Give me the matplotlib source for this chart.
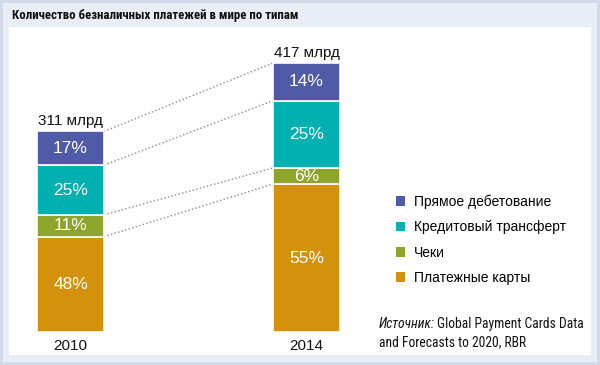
import numpy as np
import matplotlib.pyplot as plt
from matplotlib.patches import Rectangle, Patch

# data
years = ['2010', '2014']
totals = [311, 417]
total_labels = ['311 млрд', '417 млрд']
categories = ['Платежные карты', 'Чеки', 'Кредитовый трансферт', 'Прямое дебетование']
share_2010 = [48, 11, 25, 17]
share_2014 = [55, 6, 25, 14]
colors = ['#D4910C', '#8FA42A', '#00AFAF', '#4F5BA6']

W, H = 600, 365
fig = plt.figure(figsize=(W / 100, H / 100), dpi=100)
fig.patch.set_facecolor('#D3DAEA')

def px_rect(x0, y0, x1, y1, color):
    # rectangle given in pixels from top-left corner
    fig.patches.append(Rectangle((x0 / W, 1 - y1 / H), (x1 - x0) / W, (y1 - y0) / H,
                                 transform=fig.transFigure, facecolor=color,
                                 edgecolor='none', zorder=-10))

px_rect(3, 3, 597, 362, '#E9EDF5')
px_rect(9, 27, 591, 355, 'white')

fig.text(12 / W, 1 - 16 / H, 'Количество безналичных платежей в мире по типам',
         fontfamily='Roboto Condensed', fontweight='bold', fontsize=9.3,
         va='center', ha='left', color='#111111')

# axes: bottom of bars at y=332px, top of white panel at 27px
ax = fig.add_axes([9 / W, 1 - 332 / H, 582 / W, 305 / H])
ax.set_facecolor('none')
for s in ax.spines.values():
    s.set_visible(False)

x = np.arange(len(years))
bw = 0.284
shares = np.array([share_2010, share_2014], dtype=float)
heights = shares / shares.sum(axis=1, keepdims=True) * np.array(totals)[:, None]
bottoms = np.cumsum(heights, axis=1) - heights
tops = bottoms + heights

for j, cat in enumerate(categories):
    ax.bar(x, heights[:, j], bw, bottom=bottoms[:, j], color=colors[j],
           edgecolor='white', linewidth=1.2, label=cat, zorder=2)
    for i in range(len(years)):
        ax.text(x[i], bottoms[i, j] + heights[i, j] / 2, '%d%%' % shares[i, j],
                ha='center', va='center', color='white', fontsize=12.5,
                fontfamily='Liberation Sans', zorder=3)

# dotted connectors between segment boundaries
for j in range(len(categories)):
    ax.plot([x[0] + bw / 2, x[1] - bw / 2], [tops[0, j], tops[1, j]],
            ls=':', color='#888888', lw=1, zorder=1)

for i in range(len(years)):
    ax.text(x[i], totals[i] + 5, total_labels[i], ha='center', va='bottom',
            fontsize=11, fontfamily='Liberation Sans', color='#111111')

ax.set_xlim(-0.2606, 2.2055)
ax.set_ylim(0, 472.9)
ax.set_xticks(x)
ax.set_xticklabels(years, fontsize=11, fontfamily='Liberation Sans', color='#111111')
ax.tick_params(axis='x', length=0, pad=5)
ax.set_yticks([])

handles = [Patch(facecolor=c, edgecolor='none') for c in colors][::-1]
fig.legend(handles, categories[::-1], loc='upper left',
           bbox_to_anchor=(383 / W, 1 - 182 / H), frameon=False,
           handlelength=0.7, handleheight=0.7, handletextpad=0.65,
           labelspacing=0.82, prop={'family': 'Liberation Sans', 'size': 10})

src_font = dict(fontfamily='Roboto Condensed', fontsize=9.8, va='center', ha='left',
                color='#111111')
t1 = fig.text(379 / W, 1 - 324 / H, 'Источник:', fontstyle='italic', **src_font)
r = fig.canvas.get_renderer()
bb = t1.get_window_extent(r)
fig.text((bb.x1 + 2) / W, 1 - 324 / H, 'Global Payment Cards Data', **src_font)
fig.text(379 / W, 1 - 342 / H, 'and Forecasts to 2020, RBR', **src_font)

fig.savefig('out.png', dpi=100, facecolor=fig.get_facecolor())
